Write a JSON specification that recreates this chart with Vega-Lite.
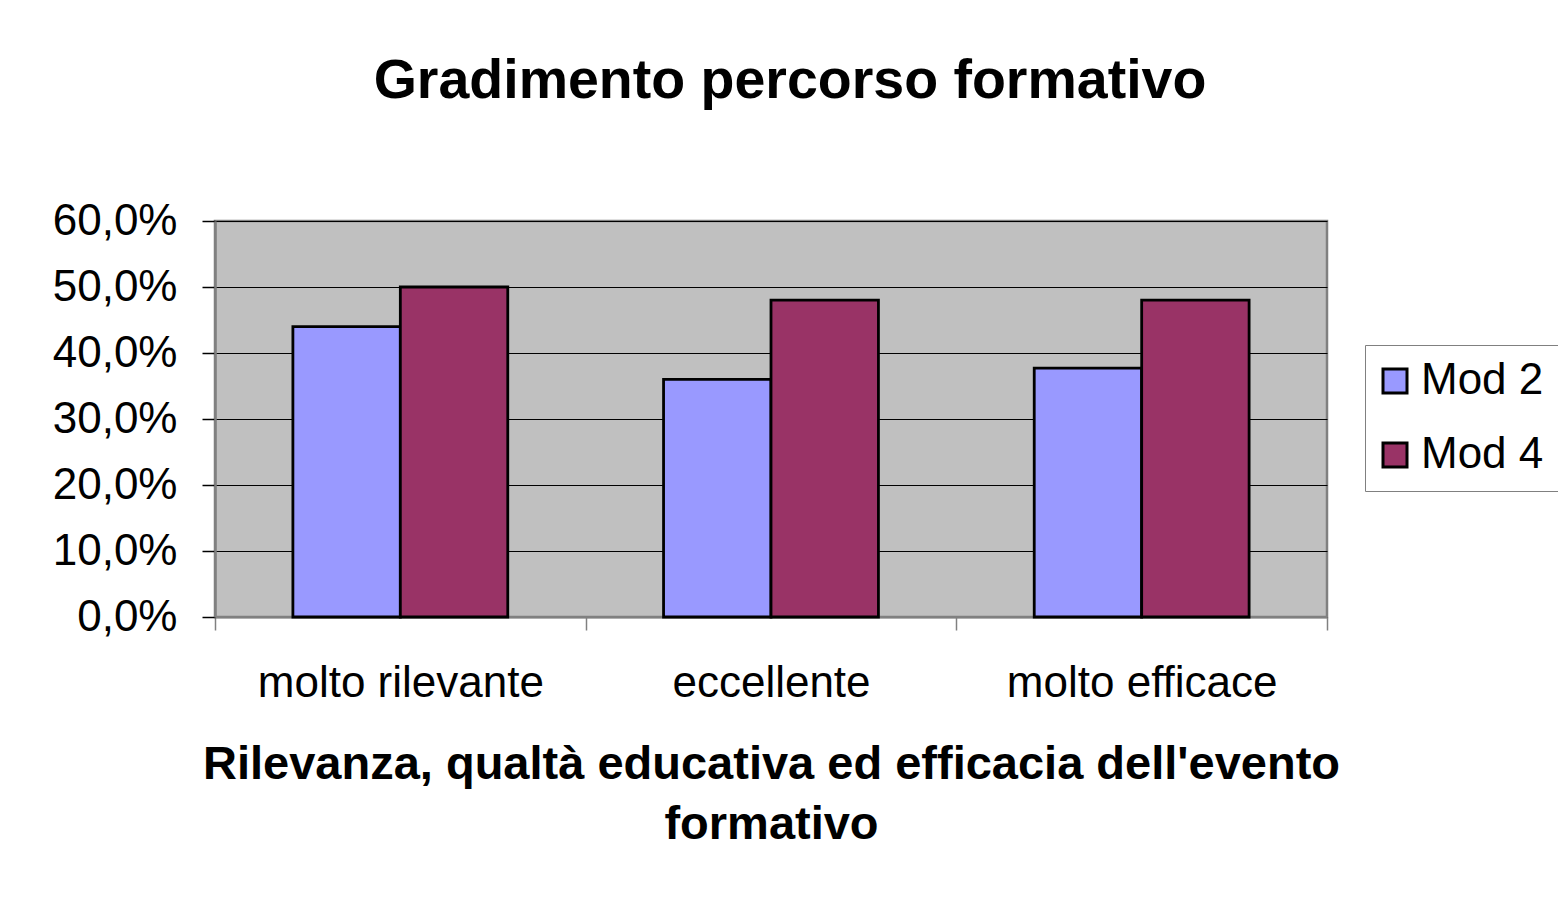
{
  "$schema": "https://vega.github.io/schema/vega-lite/v6.json",
  "width": 1112,
  "height": 396,
  "autosize": {"type": "none"},
  "padding": {"left": 215, "top": 221, "right": 231, "bottom": 283},
  "background": "white",
  "title": {
    "text": "Gradimento percorso formativo",
    "font": "Liberation Sans",
    "fontSize": 55.5,
    "fontWeight": "bold",
    "color": "black",
    "anchor": "middle",
    "frame": "group",
    "dx": 19,
    "offset": 90
  },
  "data": {
    "values": [
      {"categoria": "molto rilevante", "serie": "Mod 2", "valore": 0.44},
      {"categoria": "molto rilevante", "serie": "Mod 4", "valore": 0.50},
      {"categoria": "eccellente", "serie": "Mod 2", "valore": 0.36},
      {"categoria": "eccellente", "serie": "Mod 4", "valore": 0.48},
      {"categoria": "molto efficace", "serie": "Mod 2", "valore": 0.377},
      {"categoria": "molto efficace", "serie": "Mod 4", "valore": 0.48}
    ]
  },
  "mark": {"type": "bar", "stroke": "black", "strokeWidth": 2.8},
  "encoding": {
    "x": {
      "field": "categoria",
      "type": "nominal",
      "sort": ["molto rilevante", "eccellente", "molto efficace"],
      "scale": {"paddingInner": 0, "paddingOuter": 0},
      "axis": {
        "title": ["Rilevanza, qualtà educativa ed efficacia dell'evento", "formativo"],
        "titleFont": "Liberation Sans",
        "titleFontSize": 47,
        "titleFontWeight": "bold",
        "titleColor": "black",
        "titleLineHeight": 60,
        "titlePadding": 36,
        "labelAngle": 0,
        "labelLimit": 0,
        "labelFont": "Liberation Sans",
        "labelFontSize": 44,
        "labelColor": "black",
        "labelPadding": 31,
        "tickBand": "extent",
        "tickSize": 13,
        "tickColor": "#808080",
        "tickWidth": 1.5,
        "domainColor": "#808080",
        "domainWidth": 2,
        "grid": false
      }
    },
    "xOffset": {
      "field": "serie",
      "type": "nominal",
      "sort": ["Mod 2", "Mod 4"],
      "scale": {"paddingInner": 0, "paddingOuter": 0.725}
    },
    "y": {
      "field": "valore",
      "type": "quantitative",
      "scale": {"domain": [0, 0.6], "nice": false},
      "axis": {
        "title": null,
        "values": [0, 0.1, 0.2, 0.3, 0.4, 0.5, 0.6],
        "labelExpr": "replace(format(datum.value, '.1%'), '.', ',')",
        "labelFont": "Liberation Sans",
        "labelFontSize": 44,
        "labelColor": "black",
        "labelPadding": 25,
        "tickSize": 13,
        "tickColor": "black",
        "tickWidth": 1.5,
        "domainColor": "#808080",
        "domainWidth": 2.5,
        "grid": true,
        "gridColor": "black",
        "gridWidth": 1.2,
        "gridOpacity": 1
      }
    },
    "color": {
      "field": "serie",
      "type": "nominal",
      "scale": {"domain": ["Mod 2", "Mod 4"], "range": ["#9999FF", "#993366"]},
      "legend": {
        "title": null,
        "orient": "none",
        "legendX": 1150,
        "legendY": 124,
        "symbolType": "square",
        "symbolSize": 576,
        "symbolStrokeColor": "black",
        "symbolStrokeWidth": 3,
        "symbolOpacity": 1,
        "symbolOffset": -6,
        "labelFont": "Liberation Sans",
        "labelFontSize": 44,
        "labelColor": "black",
        "labelOffset": 4,
        "rowPadding": 30,
        "padding": 14,
        "strokeColor": "#808080",
        "fillColor": "white"
      }
    }
  },
  "config": {
    "view": {"fill": "#C0C0C0", "stroke": "#808080", "strokeWidth": 2.5}
  }
}
